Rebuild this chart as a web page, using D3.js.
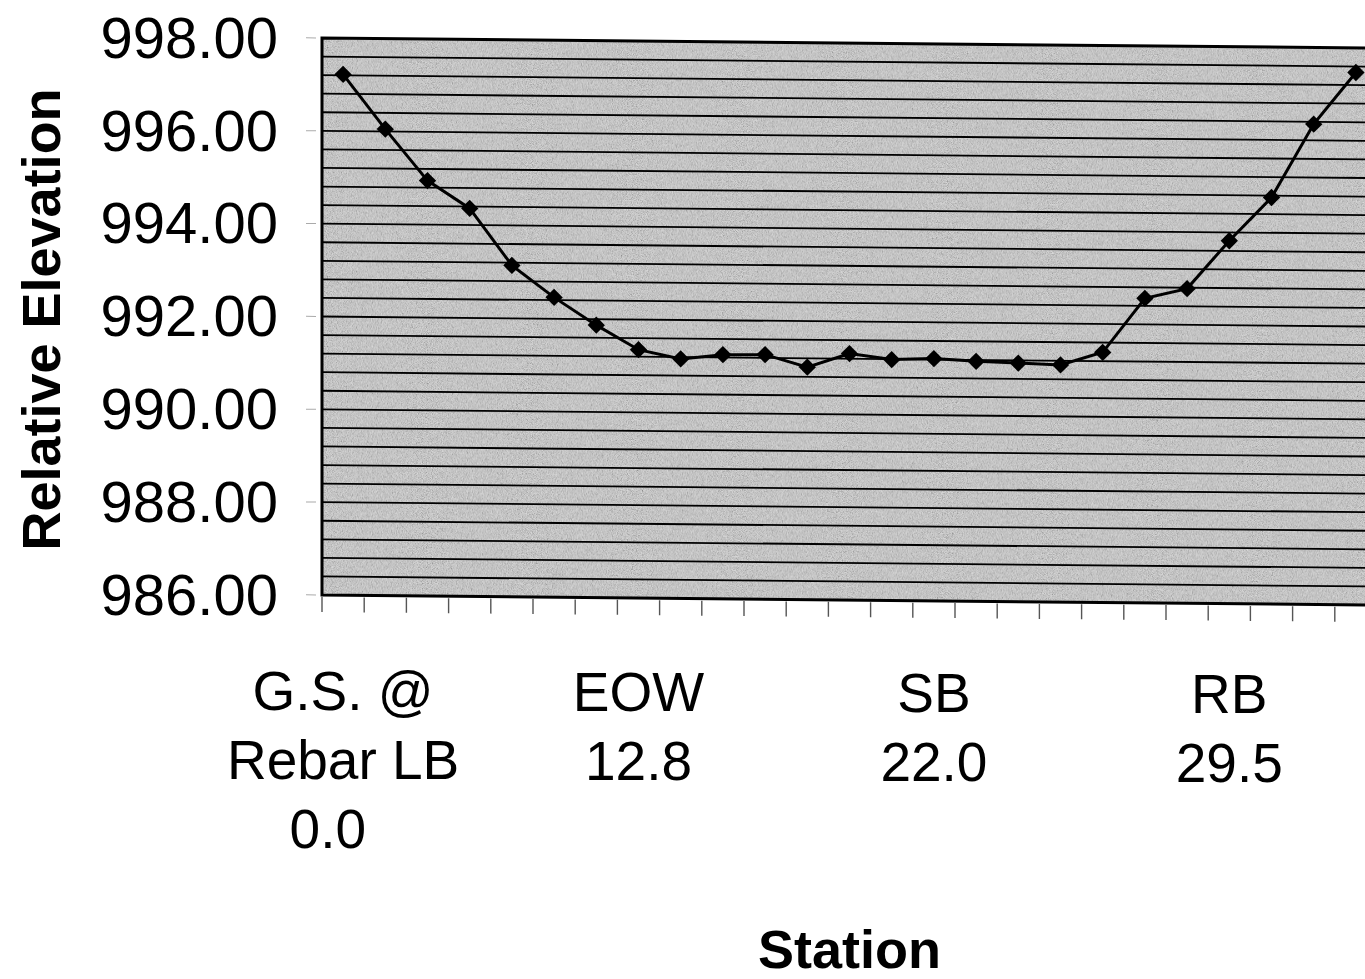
<!DOCTYPE html>
<html>
<head>
<meta charset="utf-8">
<script src="https://cdn.jsdelivr.net/npm/d3@7"></script>
<style>
  body { margin: 0; background: #fff; }
  svg { display: block; }
  text { font-family: "Liberation Sans", Arial, sans-serif; fill: #000; }
</style>
</head>
<body>
<svg id="chart" width="1365" height="979"></svg>
<script>
// station labels (only every 7th category carries a label)
const stationLabels = [
  'G.S. @\nRebar LB\n0.0\u00a0\u00a0', '', '', '', '', '', '',
  'EOW\n12.8', '', '', '', '', '', '',
  'SB\n22.0', '', '', '', '', '', '',
  'RB\n29.5', '', '', ''
];

const elevations = [
  997.22, 996.05, 994.95, 994.36, 993.14, 992.46, 991.87,
  991.35, 991.16, 991.26, 991.27, 991.01, 991.31, 991.19,
  991.22, 991.17, 991.14, 991.11, 991.39, 992.56, 992.78,
  993.82, 994.76, 996.35, 997.47
];

const yTicks = [986, 988, 990, 992, 994, 996, 998];
const gridStep = 0.4;

let svg = d3.select('#chart');

let padding = {
  left: 322,
  top: 38,
  bottom: 595,
  band: 42.2
};

let skew = 0.55; // the scan is slightly skewed

let xScale = d3.scaleBand()
  .domain(d3.range(elevations.length))
  .range([padding.left, padding.left + padding.band * elevations.length])
  .padding(0);

let yScale = d3.scaleLinear()
  .domain([986, 998])
  .range([padding.bottom, padding.top]);

let x0 = xScale.range()[0], x1 = xScale.range()[1];

// grain for the halftone look
let defs = svg.append('defs');
let grain = defs.append('filter')
  .attr('id', 'grain')
  .attr('x', 0).attr('y', 0).attr('width', 1).attr('height', 1);
grain.append('feTurbulence')
  .attr('type', 'fractalNoise')
  .attr('baseFrequency', 1.2)
  .attr('numOctaves', 1)
  .attr('seed', 4);
grain.append('feColorMatrix')
  .attr('type', 'matrix')
  .attr('values', '1.6 0 0 0 -0.3  1.6 0 0 0 -0.3  1.6 0 0 0 -0.3  0 0 0 0 1');

let plot = svg.append('g')
  .attr('transform', `translate(${x0},${padding.top}) skewY(${skew}) translate(${-x0},${-padding.top})`);

plot.append('rect')
  .attr('x', x0)
  .attr('y', yScale(998))
  .attr('width', x1 - x0)
  .attr('height', yScale(986) - yScale(998))
  .attr('fill', '#c8c8c8');

plot.append('rect')
  .attr('x', x0)
  .attr('y', yScale(998))
  .attr('width', x1 - x0)
  .attr('height', yScale(986) - yScale(998))
  .attr('filter', 'url(#grain)')
  .attr('opacity', 0.35);

// horizontal gridlines
let gridValues = d3.range(1, Math.round(12 / gridStep)).map(i => 986 + i * gridStep);
plot.selectAll('.grid')
  .data(gridValues)
  .enter()
  .append('line')
  .attr('class', 'grid')
  .attr('x1', x0)
  .attr('x2', x1)
  .attr('y1', d => yScale(d))
  .attr('y2', d => yScale(d))
  .attr('stroke', '#000')
  .attr('stroke-width', 1.8);

// category tick marks under the plot
plot.selectAll('.xtick')
  .data(d3.range(elevations.length + 1))
  .enter()
  .append('line')
  .attr('class', 'xtick')
  .attr('x1', d => x0 + d * xScale.bandwidth())
  .attr('x2', d => x0 + d * xScale.bandwidth())
  .attr('y1', yScale(986) + 2)
  .attr('y2', yScale(986) + 17)
  .attr('stroke', '#555')
  .attr('stroke-width', 1.4);

// faint value ticks on the left
plot.selectAll('.ytick')
  .data(yTicks)
  .enter()
  .append('line')
  .attr('class', 'ytick')
  .attr('x1', x0 - 16)
  .attr('x2', x0 - 6)
  .attr('y1', d => yScale(d))
  .attr('y2', d => yScale(d))
  .attr('stroke', '#aaa')
  .attr('stroke-width', 1);

// frame (left, top, bottom)
plot.append('path')
  .attr('d', `M${x1},${yScale(998)}H${x0}V${yScale(986)}H${x1}`)
  .attr('fill', 'none')
  .attr('stroke', '#000')
  .attr('stroke-width', 3);

// the profile
plot.append('path')
  .datum(elevations)
  .attr('fill', 'none')
  .attr('stroke', '#000')
  .attr('stroke-width', 3)
  .attr('d', d3.line()
    .x((d, i) => xScale(i) + xScale.bandwidth() / 2)
    .y(d => yScale(d)));

plot.selectAll('.marker')
  .data(elevations)
  .enter()
  .append('path')
  .attr('class', 'marker')
  .attr('d', d3.symbol().type(d3.symbolSquare).size(150))
  .attr('transform', (d, i) => `translate(${xScale(i) + xScale.bandwidth() / 2},${yScale(d)}) rotate(45)`)
  .attr('fill', '#000');

// y tick labels
svg.selectAll('.ylabel')
  .data(yTicks)
  .enter()
  .append('text')
  .attr('class', 'ylabel')
  .attr('x', 278)
  .attr('y', d => yScale(d))
  .attr('dy', '0.34em')
  .attr('text-anchor', 'end')
  .style('font-size', '58px')
  .text(d => d.toFixed(2));

// station labels
let catLabel = svg.selectAll('.xlabel')
  .data(stationLabels.map((t, i) => ({ t, i })).filter(d => d.t !== ''))
  .enter()
  .append('text')
  .attr('class', 'xlabel')
  .attr('text-anchor', 'middle')
  .style('font-size', '55px')
  .style('white-space', 'pre');

catLabel.selectAll('tspan')
  .data(d => d.t.split('\n').map(line => ({ line, i: d.i })))
  .enter()
  .append('tspan')
  .attr('x', d => xScale(d.i) + xScale.bandwidth() / 2)
  .attr('y', (d, j) => 710 + d.i * 0.15 + j * 69)
  .text(d => d.line);

// axis titles
svg.append('text')
  .attr('transform', `translate(60, ${(yScale(998) + yScale(986)) / 2 + 3}) rotate(-90)`)
  .attr('text-anchor', 'middle')
  .style('font-size', '54px')
  .style('font-weight', 'bold')
  .text('Relative Elevation');

svg.append('text')
  .attr('x', (x0 + x1) / 2)
  .attr('y', 968)
  .attr('text-anchor', 'middle')
  .style('font-size', '54px')
  .style('font-weight', 'bold')
  .text('Station');
</script>
</body>
</html>
